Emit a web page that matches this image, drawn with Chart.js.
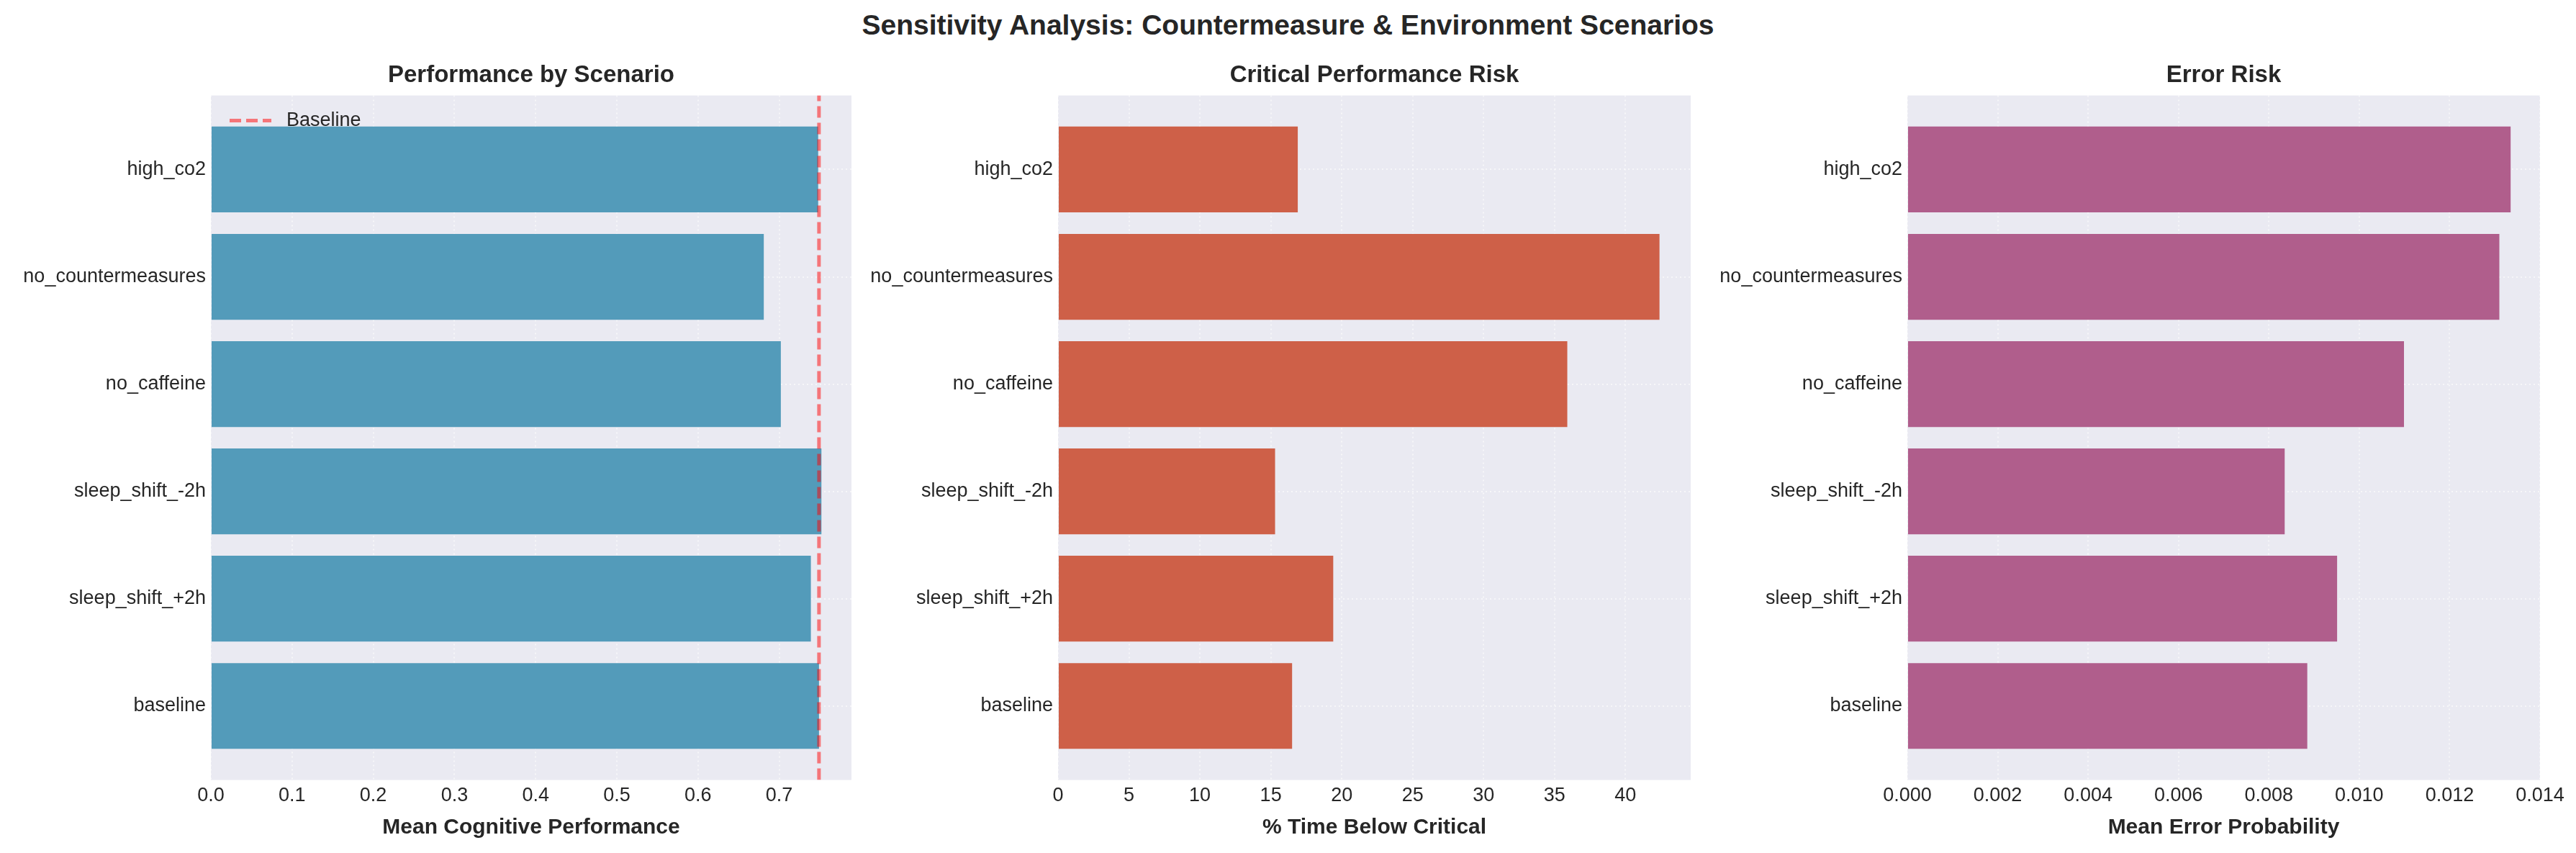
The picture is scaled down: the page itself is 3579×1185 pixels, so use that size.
<!DOCTYPE html>
<html>
<head>
<meta charset="utf-8">
<script src="https://cdn.jsdelivr.net/npm/chart.js@4.4.1/dist/chart.umd.min.js"></script>
<style>
  html, body { margin: 0; padding: 0; background: #fff; }
  body { width: 3579px; height: 1185px; position: relative; overflow: hidden; font-family: "Liberation Sans", Arial, sans-serif; }
  #suptitle { position: absolute; left: 0; top: 12px; width: 3579px; text-align: center; font-weight: bold; font-size: 39px; line-height: 46px; color: #262626; }
  canvas { position: absolute; top: 0; }
</style>
</head>
<body>
<div id="suptitle">Sensitivity Analysis: Countermeasure &amp; Environment Scenarios</div>
<canvas id="perfChart"></canvas>
<canvas id="critChart"></canvas>
<canvas id="errChart"></canvas>
<script>
// scenarios, bottom to top (same order as the bars are stacked in the figure)
const scenarios = ["baseline", "sleep_shift_+2h", "sleep_shift_-2h", "no_caffeine", "no_countermeasures", "high_co2"];
const meanPerformance = [0.749, 0.739, 0.752, 0.702, 0.681, 0.748];
const pctBelowCritical = [16.5, 19.4, 15.3, 35.9, 42.4, 16.9];
const meanErrorProb = [0.00885, 0.00951, 0.00835, 0.01099, 0.0131, 0.01335];
const baselinePerf = meanPerformance[0];

const FONT = '"Liberation Sans", Arial, sans-serif';
const TXT = "#262626";
// a bit of room above and below the outer bars, like matplotlib margins
const Y_MIN = -0.69, Y_MAX = 5.69;

Chart.defaults.font.family = FONT;
Chart.defaults.color = TXT;
Chart.defaults.animation = false;

const plotBg = {
  id: "plotBg",
  beforeDraw(chart) {
    const { ctx, chartArea: a } = chart;
    ctx.save();
    ctx.fillStyle = "#EAEAF2";
    ctx.fillRect(a.left, a.top, a.right - a.left, a.bottom - a.top);
    ctx.restore();
  }
};

// legend for the reference line, top-left inside the plot, drawn over the bars
const refLegend = {
  id: "refLegend",
  afterDatasetsDraw(chart) {
    const ds = chart.data.datasets.find(d => d.type === "line");
    if (!ds) return;
    const { ctx, chartArea: a } = chart;
    const y = a.top + 35;
    ctx.save();
    ctx.strokeStyle = ds.borderColor;
    ctx.lineWidth = ds.borderWidth;
    ctx.setLineDash(ds.borderDash);
    ctx.beginPath();
    ctx.moveTo(a.left + 26, y);
    ctx.lineTo(a.left + 84, y);
    ctx.stroke();
    ctx.setLineDash([]);
    ctx.fillStyle = TXT;
    ctx.font = "27px " + FONT;
    ctx.textBaseline = "middle";
    ctx.fillText(ds.label, a.left + 105, y);
    ctx.restore();
  }
};

const gridStyle = { color: "rgba(255,255,255,0.55)", lineWidth: 2, drawTicks: false, offset: false };

function makePanel(id, left, width, cfg) {
  const canvas = document.getElementById(id);
  canvas.width = width;
  canvas.height = 1185;
  canvas.style.left = left + "px";

  const datasets = [{
    type: "bar",
    label: cfg.xTitle,
    data: cfg.values.map((v, i) => ({ x: v, y: i })),
    backgroundColor: cfg.color,
    barPercentage: 0.8,
    categoryPercentage: 1,
    order: 1
  }];
  if (cfg.refLine != null) {
    datasets.push({
      type: "line",
      label: "Baseline",
      data: [{ x: cfg.refLine, y: Y_MIN }, { x: cfg.refLine, y: Y_MAX }],
      borderColor: "rgba(255,0,0,0.5)",
      backgroundColor: "transparent",
      borderWidth: 5,
      borderDash: [16, 7],
      pointRadius: 0,
      order: 0
    });
  }

  return new Chart(canvas, {
    data: { datasets },
    options: {
      responsive: false,
      devicePixelRatio: 1,
      indexAxis: "y",
      layout: { padding: { left: 0, right: 50, top: 0, bottom: 17 } },
      plugins: {
        title: {
          display: true, text: cfg.title, fullSize: false, color: TXT,
          font: { size: 33, weight: "bold" },
          padding: { top: 85, bottom: 8 }
        },
        legend: { display: false },
        tooltip: { enabled: false }
      },
      scales: {
        x: {
          type: "linear", min: 0, max: cfg.max,
          grid: gridStyle,
          border: { display: false, dash: [2, 4] },
          ticks: {
            stepSize: cfg.step, includeBounds: false, padding: 6, color: TXT,
            font: { size: 27 }, maxRotation: 0, autoSkip: false,
            callback: v => v.toFixed(cfg.decimals)
          },
          title: {
            display: true, text: cfg.xTitle, color: TXT,
            font: { size: 30, weight: "bold" }, padding: { top: 4, bottom: 0 }
          },
          afterFit: s => { s.paddingLeft = 0; s.paddingRight = 0; }
        },
        y: {
          type: "linear", min: Y_MIN, max: Y_MAX, offset: false,
          grid: gridStyle,
          border: { display: false, dash: [2, 4] },
          afterBuildTicks: s => { s.ticks = scenarios.map((_, i) => ({ value: i })); },
          ticks: {
            padding: 7, color: TXT, font: { size: 27 }, autoSkip: false,
            callback: v => scenarios[v]
          },
          afterFit: s => { s.width = 280; s.paddingTop = 0; s.paddingBottom = 0; }
        }
      }
    },
    plugins: [plotBg, refLegend]
  });
}

makePanel("perfChart", 13, 1220, {
  title: "Performance by Scenario",
  xTitle: "Mean Cognitive Performance",
  values: meanPerformance,
  color: "#539BBA",
  max: 0.789, step: 0.1, decimals: 1,
  refLine: baselinePerf
});

makePanel("critChart", 1190, 1209, {
  title: "Critical Performance Risk",
  xTitle: "% Time Below Critical",
  values: pctBelowCritical,
  color: "#CE6048",
  max: 44.6, step: 5, decimals: 0
});

makePanel("errChart", 2370, 1209, {
  title: "Error Risk",
  xTitle: "Mean Error Probability",
  values: meanErrorProb,
  color: "#B05E8C",
  max: 0.014, step: 0.002, decimals: 3
});
</script>
</body>
</html>
